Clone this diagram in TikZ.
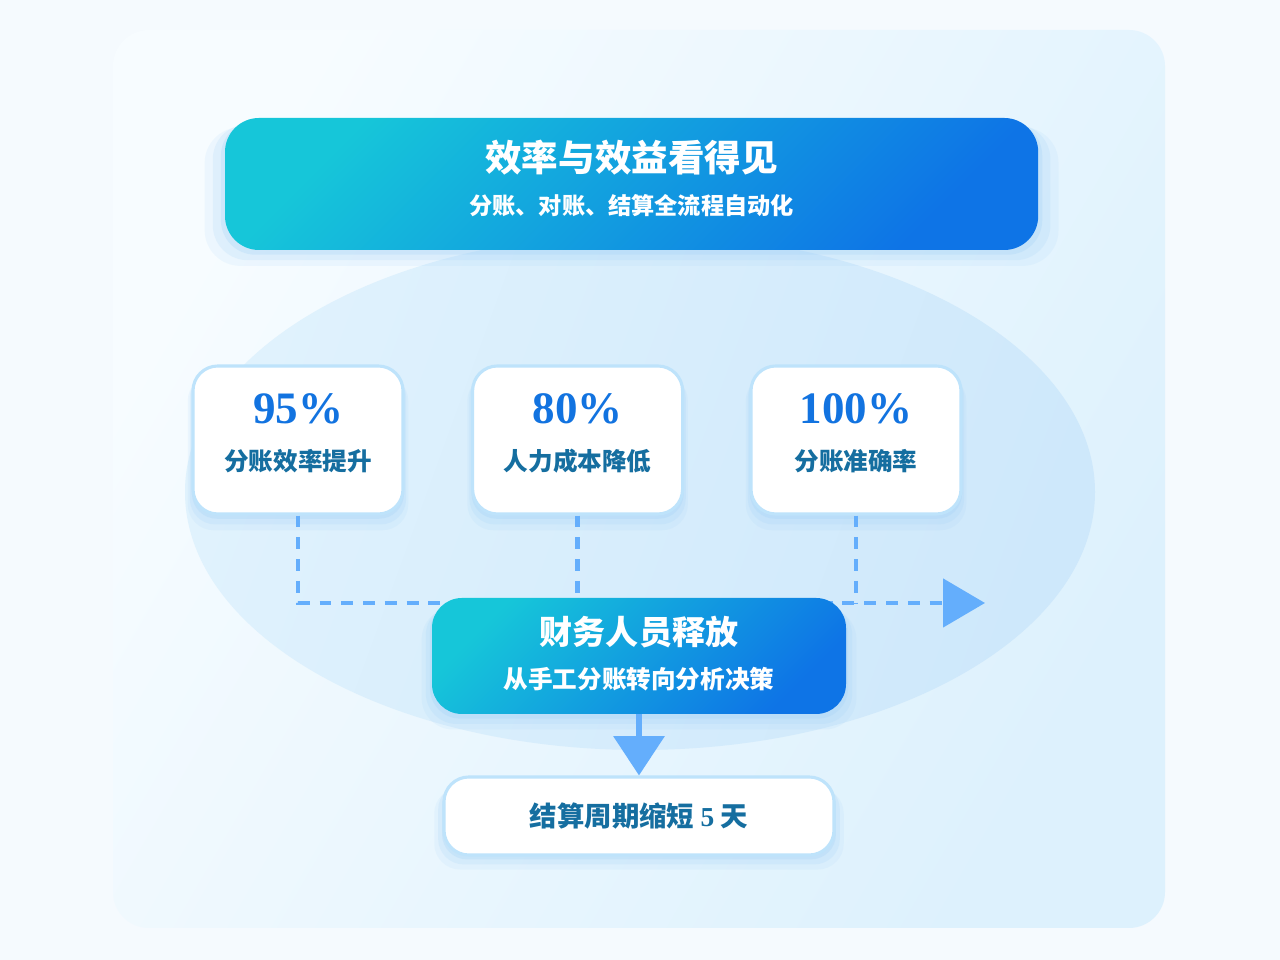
\documentclass[tikz,border=0pt]{standalone}
\usepackage{fontspec}
\newfontfamily\cjk{Noto Sans CJK SC}
\newfontfamily\numfont{Liberation Serif}
\usetikzlibrary{arrows.meta,positioning,shadows,calc}
\definecolor{pagebg}{RGB}{245,250,254}
\definecolor{panelA}{RGB}{247,252,255}
\definecolor{panelB}{RGB}{221,241,253}
\definecolor{ovalA}{RGB}{224,242,253}
\definecolor{ovalB}{RGB}{206,232,251}
\definecolor{aqua}{RGB}{22,198,217}
\definecolor{deep}{RGB}{14,116,230}
\definecolor{glow}{RGB}{160,208,247}
\definecolor{rim}{RGB}{190,227,251}
\definecolor{pctblue}{RGB}{18,115,224}
\definecolor{lbltext}{RGB}{21,110,160}
\definecolor{flow}{RGB}{100,174,252}
\tikzset{
  >={Triangle[length=1.05cm,width=1.2cm]},
  soft glow/.style={
    drop shadow={fill=glow,opacity=0.12,shadow xshift=0pt,shadow yshift=-0.3cm,shadow scale=1.05},
    drop shadow={fill=glow,opacity=0.18,shadow xshift=0pt,shadow yshift=-0.2cm,shadow scale=1.03},
    drop shadow={fill=glow,opacity=0.25,shadow xshift=0pt,shadow yshift=-0.1cm,shadow scale=1.01}},
  grad box/.style={rounded corners=#1,left color=aqua,right color=deep,shading angle=45,soft glow},
  grad box/.default=0.85cm,
  card/.style={fill=white,draw=rim,line width=2.2pt,rounded corners=0.62cm,
    minimum width=5.25cm,minimum height=3.7cm,soft glow},
  head/.style={font=\cjk\bfseries\fontsize{#1}{#1}\selectfont,text=white},
  sub/.style={font=\cjk\bfseries\fontsize{#1}{#1}\selectfont,text=white},
  pct/.style={font=\numfont\bfseries\fontsize{32}{32}\selectfont,text=pctblue},
  lbl/.style={font=\cjk\bfseries\fontsize{#1}{#1}\selectfont,text=lbltext},
  lbl/.default=17.5,
  dashline/.style={draw=flow,line width=3.5pt,dash pattern=on 8.5pt off 7pt},
}
\begin{document}
\begin{tikzpicture}
  \fill[pagebg] (0,0) rectangle (32,24);
  \useasboundingbox (0,0) rectangle (32,24);
  % backdrop
  \shade[rounded corners=0.9cm,left color=panelA,right color=panelB,shading angle=60]
    (2.825,0.8) rectangle (29.125,23.25);
  \shade[left color=ovalA,right color=ovalB,shading angle=70]
    (16,11.7) ellipse [x radius=11.375cm,y radius=6.45cm];

  % top banner
  \node[grad box,minimum width=20.33cm,minimum height=3.3cm] (banner) at (15.79,19.4) {};
  \node[head=26] (title) at (15.79,20.05) {效率与效益看得见};
  \node[sub=16.5] (subtitle) at (15.79,18.85) {分账、对账、结算全流程自动化};

  % metric cards
  \foreach \v/\t/\x [count=\i] in {95\%/分账效率提升/7.45,80\%/人力成本降低/14.44,100\%/分账准确率/21.4}{
    \node[card] (card\i) at (\x,13) {};
    \node[pct] at (\x,13.78) {\v};
    \node[lbl] at (\x,12.47) {\t};
  }

  \coordinate (busend) at (24.625,8.925);
  \draw[dashline] (card2.south) -- (card2.south |- busend);
  \draw[dashline] (card3.south) -- (card3.south |- busend);
  \draw[dashline,->] (card1.south) -- (card1.south |- busend) -- (busend);

  % release box
  \node[grad box=0.75cm,minimum width=10.35cm,minimum height=2.9cm] (release) at (15.975,7.6) {};
  \node[head=23.5] at (15.975,8.2) {财务人员释放};
  \node[sub=17.5] at (15.975,7.02) {从手工分账转向分析决策};

  % result
  \node[card,minimum width=9.75cm,minimum height=1.95cm] (result) at (15.975,3.6)
    {\cjk\bfseries\fontsize{19.5}{19.5}\selectfont\color{lbltext}结算周期缩短 {\numfont\bfseries 5} 天};
  \draw[flow,line width=4.2pt,-{Triangle[length=0.98cm,width=1.25cm]}] (release.south) -- (result.north);
\end{tikzpicture}
\end{document}
